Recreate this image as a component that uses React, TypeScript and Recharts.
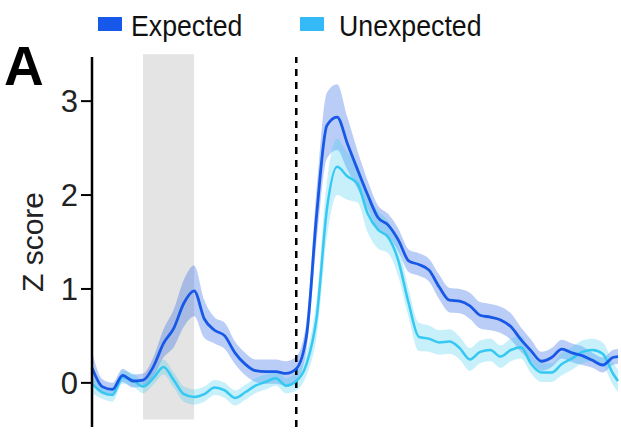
import { Area, ComposedChart, Label, Line, ReferenceArea, ReferenceLine, XAxis, YAxis } from 'recharts';

// time relative to outcome (s)
const time = [
  -4.0, -3.8, -3.6, -3.4, -3.2, -3.0, -2.8, -2.6, -2.4, -2.2,
  -2.0, -1.8, -1.6, -1.4, -1.2, -1.0, -0.8, -0.6, -0.4, -0.2,
  0.0, 0.2, 0.4, 0.6, 0.8, 1.0, 1.2, 1.4, 1.6, 1.8,
  2.0, 2.2, 2.4, 2.6, 2.8, 3.0, 3.2, 3.4, 3.6, 3.8,
  4.0, 4.2, 4.4, 4.6, 4.8, 5.0, 5.2, 5.4, 5.6, 5.8,
  6.0, 6.2, 6.3,
];

const expectedMean = [
  0.16, -0.04, -0.07, 0.08, 0.02, 0.03, 0.17, 0.42, 0.58, 0.85,
  0.98, 0.68, 0.56, 0.5, 0.32, 0.2, 0.13, 0.12, 0.12, 0.1,
  0.15, 0.5, 1.8, 2.74, 2.83, 2.55, 2.27, 2.0, 1.76, 1.68,
  1.52, 1.3, 1.26, 1.2, 1.02, 0.88, 0.87, 0.82, 0.72, 0.7,
  0.67, 0.6, 0.46, 0.34, 0.23, 0.27, 0.36, 0.32, 0.29, 0.24,
  0.19, 0.27, 0.28,
];

const expectedSem = [
  0.17, 0.08, 0.07, 0.07, 0.07, 0.07, 0.1, 0.15, 0.2, 0.25,
  0.27, 0.2, 0.14, 0.14, 0.12, 0.12, 0.12, 0.13, 0.13, 0.13,
  0.13, 0.15, 0.28, 0.35, 0.35, 0.28, 0.2, 0.15, 0.13, 0.12,
  0.12, 0.12, 0.12, 0.12, 0.13, 0.13, 0.13, 0.14, 0.14, 0.14,
  0.14, 0.14, 0.13, 0.12, 0.1, 0.1, 0.1, 0.1, 0.1, 0.08,
  0.08, 0.08, 0.08,
];

const unexpectedMean = [
  -0.01, -0.1, -0.13, 0.06, 0.03, -0.04, 0.05, 0.17, 0.03, -0.12,
  -0.15, -0.12, -0.05, -0.08, -0.16, -0.1, -0.03, 0.01, 0.05, -0.03,
  0.02, 0.2, 0.7, 1.85, 2.3, 2.2, 2.12, 1.8, 1.63, 1.55,
  1.3, 0.85, 0.49, 0.47, 0.43, 0.44, 0.37, 0.25, 0.33, 0.35,
  0.28, 0.35, 0.38, 0.2, 0.11, 0.11, 0.2, 0.26, 0.33, 0.35,
  0.31, 0.1, 0.02,
];

const unexpectedSem = [
  0.1, 0.07, 0.07, 0.07, 0.07, 0.07, 0.07, 0.08, 0.08, 0.08,
  0.08, 0.08, 0.08, 0.08, 0.08, 0.08, 0.08, 0.08, 0.08, 0.08,
  0.1, 0.12, 0.2, 0.3, 0.3, 0.25, 0.2, 0.2, 0.2, 0.17,
  0.17, 0.15, 0.15, 0.14, 0.13, 0.13, 0.12, 0.12, 0.12, 0.12,
  0.12, 0.12, 0.12, 0.1, 0.1, 0.1, 0.12, 0.12, 0.12, 0.12,
  0.12, 0.12, 0.12,
];

const yTicks = [0, 1, 2, 3];
const cueWindow = [-3, -2];

const EXPECTED = '#1858e6';
const UNEXPECTED = '#35c8f2';
const FONT = '"Liberation Sans", Arial, Helvetica, sans-serif';

const data = time.map((t, i) => ({
  t,
  expected: expectedMean[i],
  expectedBand: [expectedMean[i] - expectedSem[i], expectedMean[i] + expectedSem[i]],
  unexpected: unexpectedMean[i],
  unexpectedBand: [unexpectedMean[i] - unexpectedSem[i], unexpectedMean[i] + unexpectedSem[i]],
}));

const legendItems = [
  { label: 'Expected', color: '#1558ea', swatchX: 98, textX: 131 },
  { label: 'Unexpected', color: '#33baf7', swatchX: 300, textX: 339 },
];

function TopLegend() {
  return (
    <div style={{ position: 'absolute', left: 0, top: 0, width: 621, height: 45 }}>
      {legendItems.map((item) => (
        <div key={item.label}>
          <div
            style={{
              position: 'absolute',
              left: item.swatchX,
              top: 17,
              width: 24,
              height: 14,
              background: item.color,
            }}
          />
          <div
            style={{
              position: 'absolute',
              left: item.textX,
              top: 9,
              fontFamily: FONT,
              fontSize: 30,
              lineHeight: '34px',
              color: '#111',
              whiteSpace: 'nowrap',
              transform: 'scaleX(0.89)',
              transformOrigin: 'left center',
            }}
          >
            {item.label}
          </div>
        </div>
      ))}
    </div>
  );
}

function ZLabel({ viewBox }: any) {
  const cy = viewBox.y + viewBox.height / 2;
  return (
    <text
      x={43}
      y={cy}
      transform={`rotate(-90 43 ${cy})`}
      textAnchor="middle"
      fontFamily={FONT}
      fontSize={30}
      fill="#222"
    >
      Z score
    </text>
  );
}

export default function App() {
  return (
    <div style={{ position: 'absolute', left: 0, top: 0, width: 621, height: 439, background: '#fff' }}>
      <ComposedChart width={621} height={439} data={data} margin={{ top: 57, right: 3, bottom: 12, left: 0 }}>
        <XAxis type="number" dataKey="t" domain={[-4, 6.3]} hide />
        <YAxis
          domain={[-0.47, 3.47]}
          ticks={yTicks}
          width={92}
          tickSize={11}
          tickMargin={3}
          axisLine={{ stroke: '#000', strokeWidth: 2.5 }}
          tickLine={{ stroke: '#000', strokeWidth: 2 }}
          tick={{ fill: '#222', fontSize: 31, fontFamily: FONT }}
          allowDataOverflow
        >
          <Label content={<ZLabel />} />
        </YAxis>
        <ReferenceArea
          x1={cueWindow[0]}
          x2={cueWindow[1]}
          y1={-0.39}
          y2={3.5}
          fill="#e4e4e4"
          fillOpacity={1}
          stroke="none"
          ifOverflow="visible"
        />
        <ReferenceLine x={0} stroke="#000" strokeWidth={2.5} strokeDasharray="7 6" segment={[{ x: 0, y: 3.47 }, { x: 0, y: -0.39 }]} />
        <Area
          type="monotone"
          dataKey="expectedBand"
          stroke="none"
          fill={EXPECTED}
          fillOpacity={0.3}
          isAnimationActive={false}
          legendType="none"
        />
        <Area
          type="monotone"
          dataKey="unexpectedBand"
          stroke="none"
          fill={UNEXPECTED}
          fillOpacity={0.28}
          isAnimationActive={false}
          legendType="none"
        />
        <Line
          type="monotone"
          dataKey="unexpected"
          stroke={UNEXPECTED}
          strokeWidth={2.5}
          dot={false}
          isAnimationActive={false}
        />
        <Line
          type="monotone"
          dataKey="expected"
          stroke={EXPECTED}
          strokeWidth={2.8}
          dot={false}
          isAnimationActive={false}
        />
      </ComposedChart>
      <TopLegend />
      <div
        style={{
          position: 'absolute',
          left: 4,
          top: 36,
          fontFamily: FONT,
          fontWeight: 700,
          fontSize: 55,
          lineHeight: '60px',
          color: '#000',
        }}
      >
        A
      </div>
    </div>
  );
}
